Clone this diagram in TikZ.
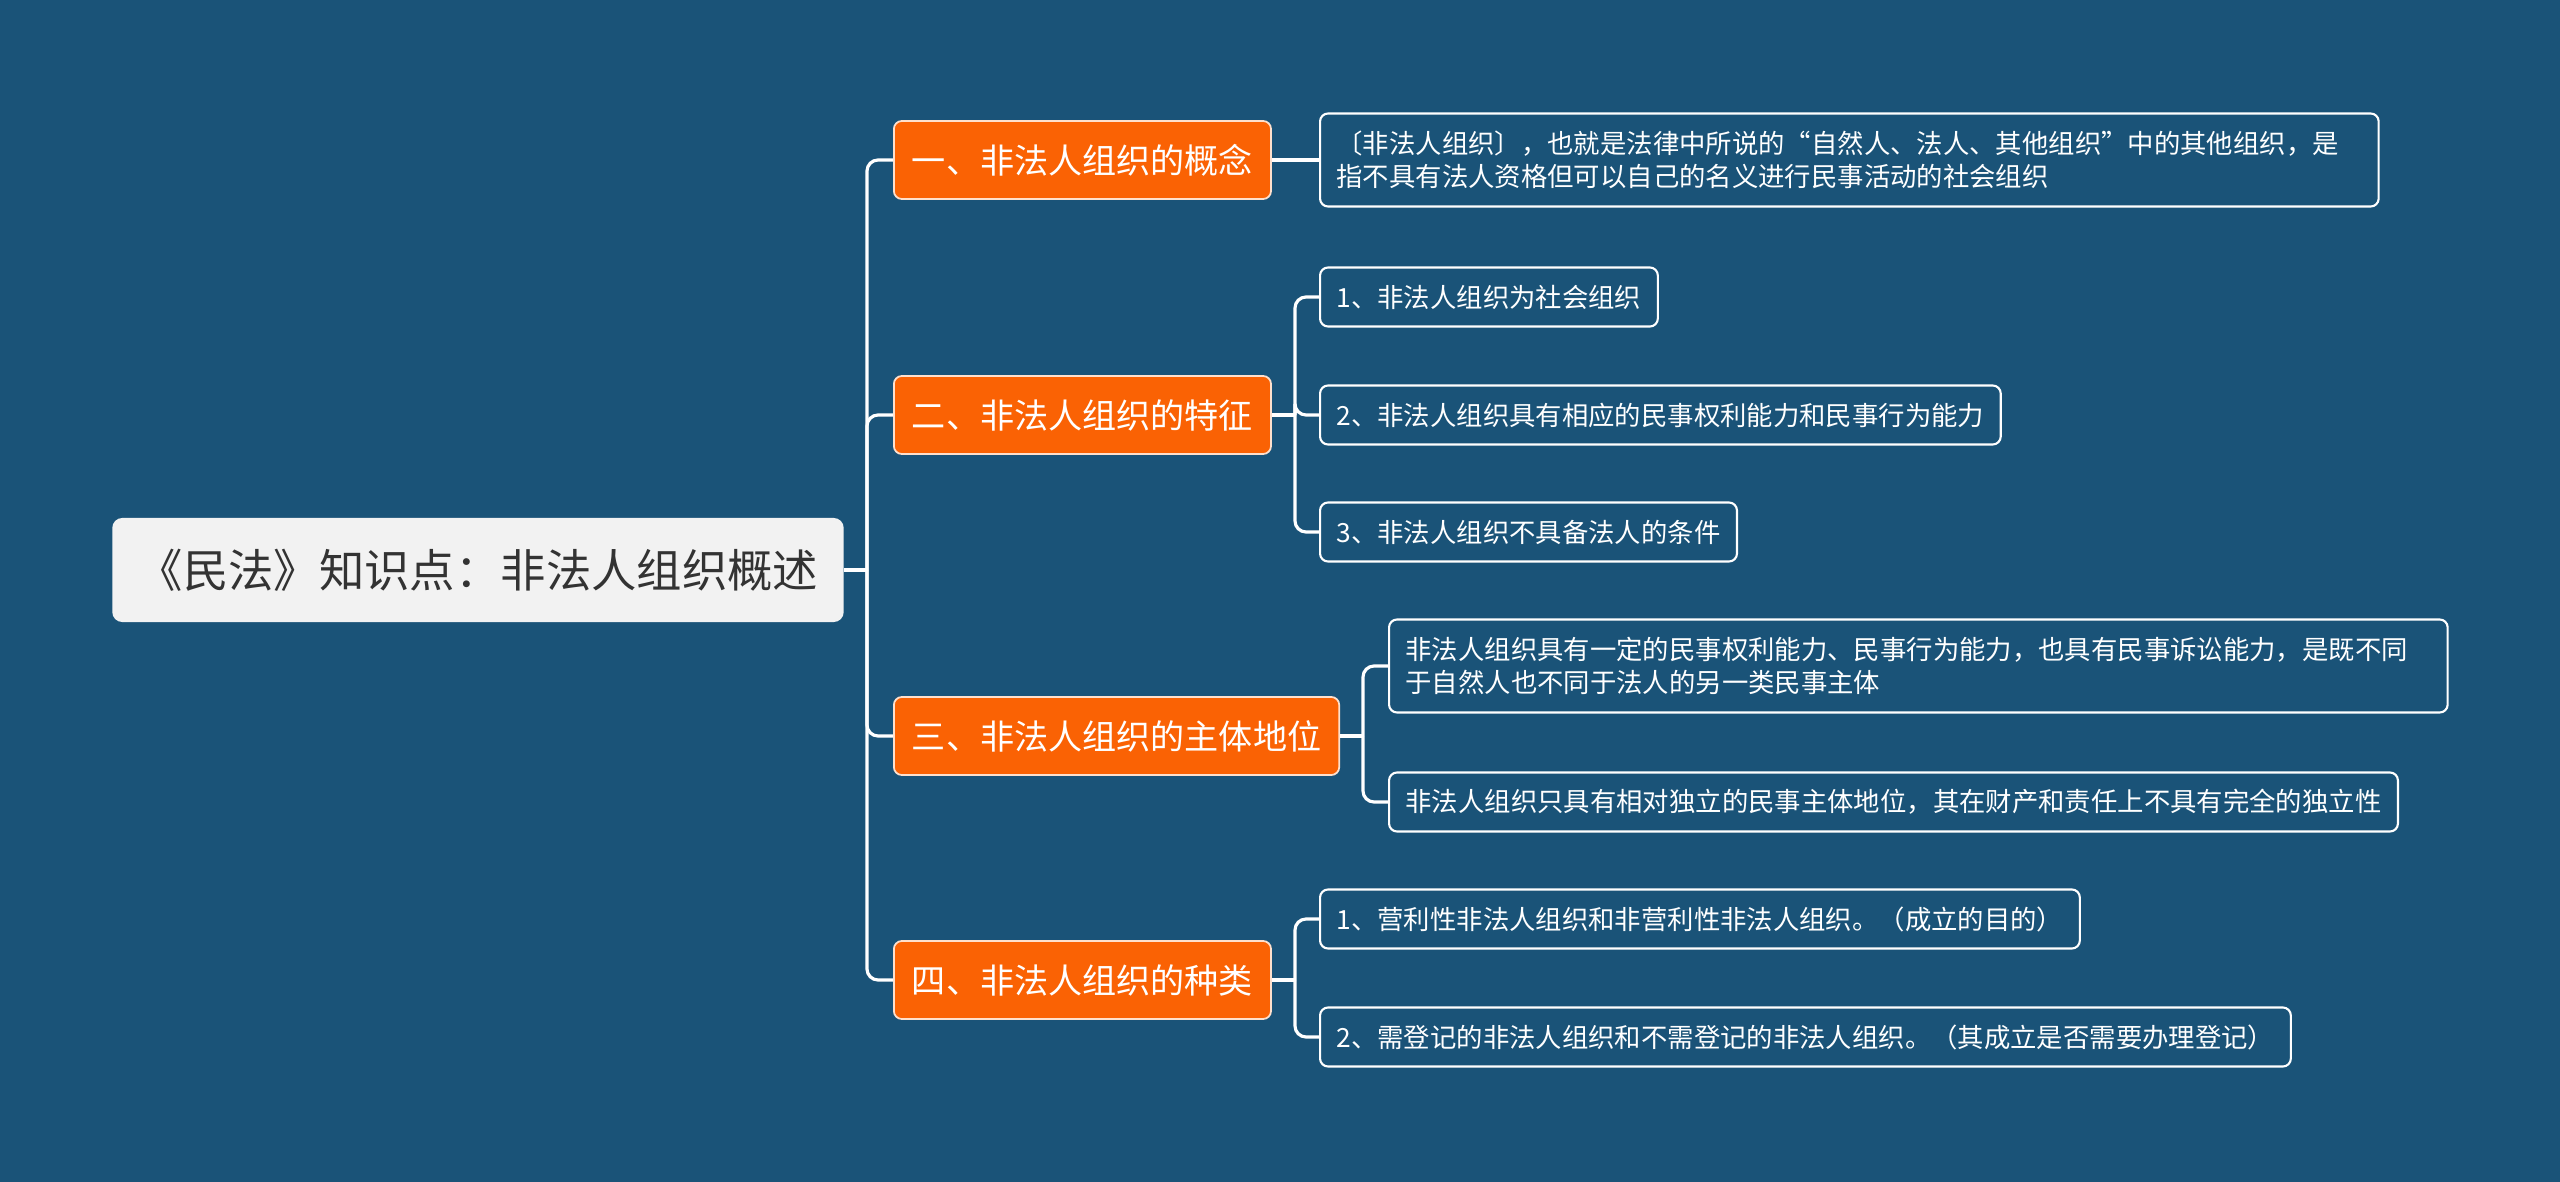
\documentclass[tikz,border=0pt]{standalone}
\usepackage{fontspec}
\setmainfont{Noto Sans CJK SC}
\usepackage{xcolor}
\usepackage{tikz}
\definecolor{bgblue}{RGB}{26,83,120}
\definecolor{topicorange}{RGB}{250,98,4}
\definecolor{rootgray}{RGB}{242,242,242}
\definecolor{roottext}{RGB}{51,51,51}

\begin{document}
\begin{tikzpicture}[x=0.01cm, y=-0.01cm,
    rootbox/.style={rounded corners=0.1cm, fill=rootgray, text=roottext, inner xsep=0.25cm,
      minimum height=1.04cm, minimum width=7.31cm, font=\fontsize{12.9}{15}\selectfont},
    topicbox/.style={rounded corners=0.08cm, fill=topicorange, draw=white!80!topicorange, line width=0.5pt,
      text=white, inner xsep=0.18cm, minimum height=0.78cm, anchor=west, font=\fontsize{9.7}{12}\selectfont},
    leafbox/.style={rounded corners=0.08cm, draw=white, line width=0.6pt, text=white, inner xsep=0.165cm,
      minimum height=0.59cm, anchor=west, align=left, font=\fontsize{7.5}{9.4}\selectfont},
    wideleaf/.style={leafbox, minimum height=0.93cm, text width=10.25cm},
    link/.style={draw=white, line width=0.9pt, rounded corners=0.11cm}
  ]
    % Background
    \fill[bgblue] (0,0) rectangle (2560,1182);
    \useasboundingbox (0,0) rectangle (2560,1182);

    % Root Box
    \node[rootbox] (root) at (478,570) {《民法》知识点：非法人组织概述};

    % Topic Boxes
    \node[topicbox] (t1) at (893,160) {一、非法人组织的概念};
    \node[topicbox] (t2) at (893,415) {二、非法人组织的特征};
    \node[topicbox] (t3) at (893,736) {三、非法人组织的主体地位};
    \node[topicbox] (t4) at (893,980) {四、非法人组织的种类};

    % Leaf Boxes
    \node[wideleaf] (c11) at (1319,160) {〔非法人组织〕，也就是法律中所说的“自然人、法人、其他组织”中的其他组织，是\\指不具有法人资格但可以自己的名义进行民事活动的社会组织};
    \node[leafbox] (c21) at (1319,297) {1、非法人组织为社会组织};
    \node[leafbox] (c22) at (1319,415) {2、非法人组织具有相应的民事权利能力和民事行为能力};
    \node[leafbox] (c23) at (1319,532) {3、非法人组织不具备法人的条件};
    \node[wideleaf] (c31) at (1388,666) {非法人组织具有一定的民事权利能力、民事行为能力，也具有民事诉讼能力，是既不同\\于自然人也不同于法人的另一类民事主体};
    \node[leafbox] (c32) at (1388,802) {非法人组织只具有相对独立的民事主体地位，其在财产和责任上不具有完全的独立性};
    \node[leafbox] (c41) at (1319,919) {1、营利性非法人组织和非营利性非法人组织。（成立的目的）};
    \node[leafbox] (c42) at (1319,1037) {2、需登记的非法人组织和不需登记的非法人组织。（其成立是否需要办理登记）};

    % Links
    \coordinate (rootfork) at (867,570);
    \draw[link] (root.east) -- (rootfork);
    \foreach \t in {t1,t2,t3,t4}
        \draw[link] (rootfork) |- (\t.west);

    \draw[link] (t1.east) -- (c11.west);

    \coordinate (fork2) at (1295,415);
    \draw[link] (t2.east) -- (fork2);
    \foreach \c in {c21,c22,c23}
        \draw[link] (fork2) |- (\c.west);

    \coordinate (fork3) at (1363,736);
    \draw[link] (t3.east) -- (fork3);
    \foreach \c in {c31,c32}
        \draw[link] (fork3) |- (\c.west);

    \coordinate (fork4) at (1295,980);
    \draw[link] (t4.east) -- (fork4);
    \foreach \c in {c41,c42}
        \draw[link] (fork4) |- (\c.west);
\end{tikzpicture}
\end{document}
